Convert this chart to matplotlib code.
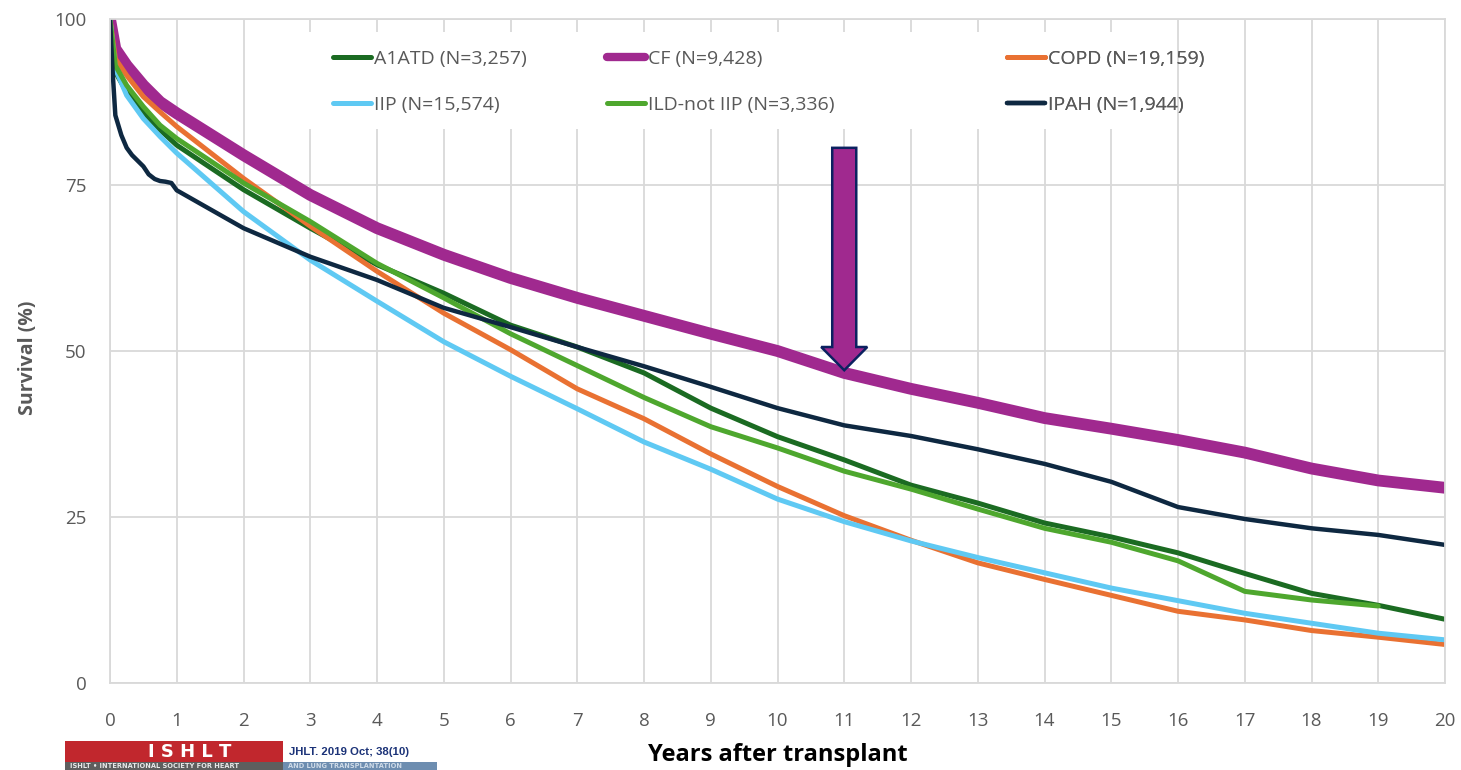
import matplotlib
matplotlib.use("Agg")
import matplotlib.pyplot as plt
from matplotlib.patches import Rectangle, FancyArrow

plt.rcParams['font.family'] = ['Open Sans', 'DejaVu Sans']

# Survival data (years after transplant, % surviving)
years = [0, 0.08, 0.25, 0.5, 0.75, 1] + list(range(2, 21))
years_ild = years[:-1]
years_ipah = [0, 0.04, 0.08, 0.17, 0.25, 0.33, 0.42, 0.5, 0.58, 0.67, 0.75, 0.83, 0.92, 1] + list(range(2, 21))

a1atd = [100, 92.0, 89.0, 86.0, 83.3, 81.0, 74.3, 68.5, 63.0, 58.7, 53.9, 50.6, 46.7, 41.4,
         37.1, 33.6, 29.8, 27.1, 24.1, 22.0, 19.6, 16.5, 13.5, 11.7, 9.6]
cf = [100, 95.5, 93.0, 90.0, 87.5, 85.8, 79.5, 73.5, 68.5, 64.5, 61.0, 58.0, 55.3, 52.6,
      50.0, 46.7, 44.3, 42.2, 39.9, 38.3, 36.6, 34.7, 32.3, 30.5, 29.4]
copd = [100, 94.0, 91.5, 88.3, 86.0, 83.8, 76.0, 68.8, 62.0, 55.7, 50.2, 44.3, 39.8, 34.5,
        29.6, 25.2, 21.5, 18.1, 15.6, 13.2, 10.8, 9.5, 7.9, 6.9, 5.8]
iip = [100, 92.5, 88.5, 85.0, 82.3, 79.8, 71.0, 63.7, 57.5, 51.4, 46.2, 41.3, 36.3, 32.2,
       27.7, 24.3, 21.4, 18.9, 16.6, 14.3, 12.4, 10.5, 9.0, 7.5, 6.5]
ild = [100, 93.0, 90.0, 86.8, 84.0, 82.0, 75.3, 69.5, 63.2, 58.0, 52.6, 47.8, 43.0, 38.6,
       35.4, 31.9, 29.2, 26.2, 23.3, 21.2, 18.4, 13.8, 12.5, 11.6]
ipah = [100, 92.0, 85.5, 82.5, 80.6, 79.5, 78.6, 77.8, 76.6, 75.9, 75.6, 75.5, 75.3, 74.2,
        68.5, 64.2, 60.7, 56.5, 53.6, 50.6, 47.7, 44.6, 41.4, 38.8, 37.2, 35.2, 33.0, 30.3,
        26.5, 24.7, 23.3, 22.3, 20.8]

labels = ['A1ATD (N=3,257)', 'CF (N=9,428)', 'COPD (N=19,159)',
          'IIP (N=15,574)', 'ILD-not IIP (N=3,336)', 'IPAH (N=1,944)']
colors = ['#1B6B22', '#A0298F', '#E97132', '#5FC9F3', '#4EA72E', '#0E2841']

W, H = 1461, 770
fig = plt.figure(figsize=(W / 100, H / 100), dpi=100)
ax = fig.add_axes([110 / W, 1 - 683 / H, (1445 - 110) / W, (683 - 19) / H])

grey = '#d9d9d9'
lines = []
lines += ax.plot(years, a1atd, color=colors[0], lw=3.6, solid_capstyle='round')
lines += ax.plot(years, cf, color=colors[1], lw=8.5, solid_capstyle='round')
lines += ax.plot(years, copd, color=colors[2], lw=3.6, solid_capstyle='round')
lines += ax.plot(years, iip, color=colors[3], lw=3.6, solid_capstyle='round')
lines += ax.plot(years_ild, ild, color=colors[4], lw=3.6, solid_capstyle='round')
lines += ax.plot(years_ipah, ipah, color=colors[5], lw=3.2, solid_capstyle='round')

ax.set_xlim(0, 20)
ax.set_ylim(0, 100)
ax.set_xticks(range(0, 21))
ax.set_yticks([0, 25, 50, 75, 100])
ax.grid(color=grey, lw=1.3)
ax.set_axisbelow(True)
for s in ax.spines.values():
    s.set_color(grey)
    s.set_linewidth(1.3)
ax.tick_params(length=0, labelsize=13.5, labelcolor='#595959')
ax.tick_params(axis='x', pad=21)
ax.tick_params(axis='y', pad=17)
ax.set_xlabel('Years after transplant', fontsize=17, fontweight='bold', color='black', labelpad=9)
ax.set_ylabel('Survival (%)', fontsize=14, fontweight='bold', color='#595959')
ax.yaxis.set_label_coords(-0.054, 0.49)

# white box behind legend
ax.add_patch(Rectangle((2.9, 83.5), 12.4, 14.6, facecolor='white', edgecolor='none', zorder=1.5))

# legend split into three columns at custom positions
col_x = [333, 607, 1007]
for i, cx in enumerate(col_x):
    leg = ax.legend([lines[i], lines[i + 3]], [labels[i], labels[i + 3]],
                    loc='upper left', bbox_to_anchor=(cx / W, 1 - 50 / H),
                    bbox_transform=fig.transFigure, frameon=False, fontsize=14,
                    labelcolor='#595959', handlelength=1.95, handletextpad=0.15,
                    borderpad=0, borderaxespad=0, labelspacing=1.42)
    for h in leg.legend_handles:
        h.set_linewidth(min(h.get_linewidth(), 6))
    ax.add_artist(leg)

# arrow pointing at CF curve at 11 years
arr = FancyArrow(11, 80.6, 0, -33.5, width=0.36, head_width=0.69, head_length=3.5,
                 length_includes_head=True, facecolor='#A0298F', edgecolor='#0B2160',
                 lw=1.8, zorder=5)
ax.add_patch(arr)

# journal logo at bottom left
def fr(x0, y0, x1, y1, **kw):
    r = Rectangle((x0 / W, 1 - y1 / H), (x1 - x0) / W, (y1 - y0) / H,
                  transform=fig.transFigure, **kw)
    fig.add_artist(r)
    return r

fr(65, 741, 283, 762, facecolor='#C1272D', edgecolor='none')
fr(65, 762, 283, 770, facecolor='#5e5e5e', edgecolor='none')
fr(283, 762, 437, 770, facecolor='#6d8db0', edgecolor='none')
fig.text(190 / W, 1 - 752 / H, 'I S H L T', color='white', fontsize=13, fontweight='bold',
         ha='center', va='center', family='DejaVu Sans')
fig.text(70 / W, 1 - 766 / H, 'ISHLT \u2022 INTERNATIONAL SOCIETY FOR HEART', color='#e8e8e8',
         fontsize=4.8, fontweight='bold', va='center', family='DejaVu Sans')
fig.text(288 / W, 1 - 766 / H, 'AND LUNG TRANSPLANTATION', color='#cfdbe8',
         fontsize=4.8, fontweight='bold', va='center', family='DejaVu Sans')
fig.text(289 / W, 1 - 752 / H, 'JHLT. 2019 Oct; 38(10)', color='#1c3378', fontsize=8.2,
         fontweight='bold', va='center', family='Liberation Sans')

fig.savefig('out.png', dpi=100)
